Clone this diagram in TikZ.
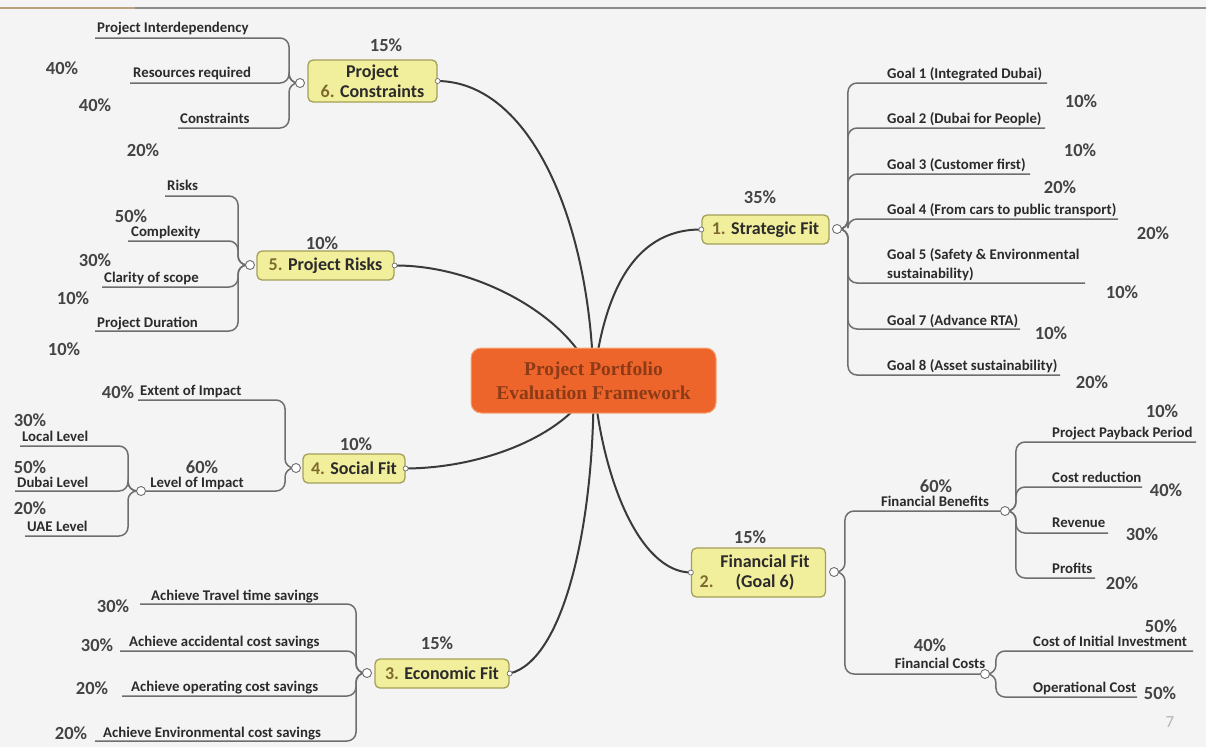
\documentclass[tikz,border=0pt]{standalone}
\usepackage{fontspec}
\setsansfont{Carlito}
\setmainfont{Liberation Serif}
\usetikzlibrary{backgrounds}

\definecolor{bgc}{HTML}{F4F4F4}
\definecolor{rulec}{HTML}{8C8C8C}
\definecolor{rulet}{HTML}{B8A27C}
\definecolor{linec}{HTML}{6E6E6E}
\definecolor{armc}{HTML}{3A3A3A}
\definecolor{txtc}{HTML}{2B2B2B}
\definecolor{pctc}{HTML}{444444}
\definecolor{topicfill}{HTML}{F1EE9C}
\definecolor{topicdraw}{HTML}{A3A05A}
\definecolor{numc}{HTML}{7D6B2E}
\definecolor{hubfill}{HTML}{EE652B}
\definecolor{hubdraw}{HTML}{F6A877}
\definecolor{hubtext}{HTML}{8C3A17}
\definecolor{pagec}{HTML}{B5B5B5}

\tikzset{
  lbl/.style={font=\sffamily\bfseries\fontsize{14.8}{19}\selectfont, text=txtc, inner sep=0pt},
  pct/.style={font=\sffamily\bfseries\fontsize{18.5}{20}\selectfont, text=pctc, inner sep=0pt},
  topic/.style={draw=topicdraw, fill=topicfill, line width=1.3pt, rounded corners=5pt,
    font=\sffamily\bfseries\fontsize{18}{20}\selectfont, text=txtc, inner sep=0pt,
    minimum height=29pt, align=center},
  knob/.style={circle, draw=linec, fill=white, line width=0.9pt, minimum size=9pt, inner sep=0pt},
  tip/.style={circle, draw=linec, fill=white, line width=0.7pt, minimum size=5pt, inner sep=0pt},
  branch/.style={draw=linec, line width=1.5pt, rounded corners=9pt},
  arm/.style={draw=armc, line width=2pt},
}

\begin{document}
\begin{tikzpicture}[x=1pt,y=-1pt]
\useasboundingbox (0,0) rectangle (1206,747);

% ---------- page ----------
\begin{pgfonlayer}{background}
  \fill[bgc] (0,0) rectangle (1206,747);
  \draw[rulec, line width=2.5pt] (0,8) -- (1206,8);
  \draw[rulet, line width=2.5pt] (0,8) -- (135,8);
\end{pgfonlayer}

% ---------- hub ----------
\node[draw=hubdraw, fill=hubfill, line width=1pt, rounded corners=10pt,
      minimum width=245pt, minimum height=65pt, align=center,
      font=\rmfamily\bfseries\fontsize{19.5}{24}\selectfont, text=hubtext]
      (h) at (593.5,380.5) {Project Portfolio\\Evaluation Framework};

% ---------- main topics ----------
\node[topic, minimum width=127pt] (sf) at (765.5,229.5) {{\color{numc}1.} Strategic Fit};
\node[topic, minimum width=134pt, minimum height=49pt] (ff) at (758.5,572.5)
     {\hspace*{13pt}Financial Fit\\\hspace*{13pt}\llap{{\color{numc}2.}\hspace{22pt}}(Goal 6)};
\node[topic, minimum width=134pt] (ef) at (442,673.5) {{\color{numc}3.} Economic Fit};
\node[topic, minimum width=102pt] (so) at (354,468.5) {{\color{numc}4.} Social Fit};
\node[topic, minimum width=137pt] (pr) at (325.5,265.5) {{\color{numc}5.} Project Risks};
\node[topic, minimum width=129pt, minimum height=42pt] (pc) at (372.5,81)
     {Project\\{\color{numc}6.} Constraints};

% weights of the main topics
\node[pct] (wsf) at (760,197) {35\%};
\node[pct] (wff) at (750,537) {15\%};
\node[pct] (wef) at (437,643) {15\%};
\node[pct] (wso) at (356,444) {10\%};
\node[pct] (wpr) at (322,243) {10\%};
\node[pct] (wpc) at (386,45) {15\%};

% arm tips on the hub side of each topic
\node[tip] (tsf) at (sf.west) {};
\node[tip] (tff) at (ff.west) {};
\node[tip] (tef) at (ef.east) {};
\node[tip] (tso) at (so.east) {};
\node[tip] (tpr) at (pr.east) {};
\node[tip] (tpc) at (pc.east) {};

% arms from the hub
\begin{pgfonlayer}{background}
  \draw[arm] (h.center) .. controls (603,300) and (630,229) .. (tsf.center);
  \draw[arm] (h.center) .. controls (602,480) and (640,572) .. (tff.center);
  \draw[arm] (h.center) .. controls (595,520) and (565,660) .. (tef.center);
  \draw[arm] (h.center) .. controls (575,430) and (490,468) .. (tso.center);
  \draw[arm] (h.center) .. controls (575,320) and (480,265) .. (tpr.center);
  \draw[arm] (h.center) .. controls (590,220) and (530,82) .. (tpc.center);
\end{pgfonlayer}

% ---------- 1. Strategic Fit ----------
\node[knob] (ksf) at (837,229) {};
\coordinate (g1) at (1047,83);
\coordinate (g2) at (1045,128);
\coordinate (g3) at (1030,174);
\coordinate (g4) at (1118,219);
\coordinate (g5) at (1085,283);
\coordinate (g7) at (1020,329);
\coordinate (g8) at (1060,375);
\begin{pgfonlayer}{background}
  \foreach \g in {g1,g2,g3,g4,g5,g7,g8}
    \draw[branch] (ksf.east) -- ++(6,0) |- (\g);
\end{pgfonlayer}
\node[lbl, anchor=base west] (tg1) at (887,78) {Goal 1 (Integrated Dubai)};
\node[lbl, anchor=base west] (tg2) at (887,123) {Goal 2 (Dubai for People)};
\node[lbl, anchor=base west] (tg3) at (887,169) {Goal 3 (Customer first)};
\node[lbl, anchor=base west] (tg4) at (887,214) {Goal 4 (From cars to public transport)};
\node[lbl, anchor=north west, align=left] (tg5) at (887,248)
     {Goal 5 (Safety \& Environmental\\sustainability)};
\node[lbl, anchor=base west] (tg7) at (887,325) {Goal 7 (Advance RTA)};
\node[lbl, anchor=base west] (tg8) at (887,370) {Goal 8 (Asset sustainability)};
\node[pct] (wg1) at (1081,101) {10\%};
\node[pct] (wg2) at (1080,150) {10\%};
\node[pct] (wg3) at (1060,187) {20\%};
\node[pct] (wg4) at (1153,233) {20\%};
\node[pct] (wg5) at (1122,292) {10\%};
\node[pct] (wg7) at (1051,333) {10\%};
\node[pct] (wg8) at (1092,382) {20\%};

% ---------- 2. Financial Fit ----------
\node[knob] (kff) at (834,572) {};
\node[knob] (kfb) at (1005,511) {};
\node[knob] (kfc) at (985,674) {};
\begin{pgfonlayer}{background}
  \draw[branch] (kff.east) -- ++(6,0) |- (kfb.west);
  \draw[branch] (kff.east) -- ++(6,0) |- (kfc.west);
\end{pgfonlayer}
\node[lbl, anchor=base] (tfb) at (935,506) {Financial Benefits};
\node[pct] (wfb) at (936,486) {60\%};
\node[lbl, anchor=base] (tfc) at (940,668) {Financial Costs};
\node[pct] (wfc) at (930,645) {40\%};

\coordinate (b1) at (1196,442);
\coordinate (b2) at (1142,487);
\coordinate (b3) at (1108,533);
\coordinate (b4) at (1095,578);
\begin{pgfonlayer}{background}
  \foreach \b in {b1,b2,b3,b4}
    \draw[branch] (kfb.east) -- ++(6,0) |- (\b);
\end{pgfonlayer}
\node[lbl, anchor=base west] (tb1) at (1052,437) {Project Payback Period};
\node[lbl, anchor=base west] (tb2) at (1052,482) {Cost reduction};
\node[lbl, anchor=base west] (tb3) at (1052,527) {Revenue};
\node[lbl, anchor=base west] (tb4) at (1052,573) {Profits};
\node[pct] (wb1) at (1162,411) {10\%};
\node[pct] (wb2) at (1166,490) {40\%};
\node[pct] (wb3) at (1142,534) {30\%};
\node[pct] (wb4) at (1122,583) {20\%};

\coordinate (c1) at (1193,651);
\coordinate (c2) at (1137,697);
\begin{pgfonlayer}{background}
  \foreach \c in {c1,c2}
    \draw[branch] (kfc.east) -- ++(6,0) |- (\c);
\end{pgfonlayer}
\node[lbl, anchor=base west] (tc1) at (1033,646) {Cost of Initial Investment};
\node[lbl, anchor=base west] (tc2) at (1033,692) {Operational Cost};
\node[pct] (wc1) at (1161,626) {50\%};
\node[pct] (wc2) at (1160,693) {50\%};

% ---------- 3. Economic Fit ----------
\node[knob] (kef) at (367,673) {};
\coordinate (e1) at (140,604);
\coordinate (e2) at (120,651);
\coordinate (e3) at (122,696);
\coordinate (e4) at (95,741);
\begin{pgfonlayer}{background}
  \foreach \e in {e1,e2,e3,e4}
    \draw[branch] (kef.west) -- ++(-6,0) |- (\e);
\end{pgfonlayer}
\node[lbl, anchor=base west] (te1) at (151,600) {Achieve Travel time savings};
\node[lbl, anchor=base west] (te2) at (129,646) {Achieve accidental cost savings};
\node[lbl, anchor=base west] (te3) at (131,691) {Achieve operating cost savings};
\node[lbl, anchor=base west] (te4) at (103,737) {Achieve Environmental cost savings};
\node[pct] (we1) at (113,606) {30\%};
\node[pct] (we2) at (97,645) {30\%};
\node[pct] (we3) at (92,688) {20\%};
\node[pct] (we4) at (71,733) {20\%};

% ---------- 4. Social Fit ----------
\node[knob] (kso) at (296,468) {};
\node[knob] (kli) at (141,491) {};
\coordinate (s1) at (138,400);
\begin{pgfonlayer}{background}
  \draw[branch] (kso.west) -- ++(-6,0) |- (s1);
  \draw[branch] (kso.west) -- ++(-6,0) |- (kli.east);
\end{pgfonlayer}
\node[lbl, anchor=base west] (ts1) at (140,395) {Extent of Impact};
\node[pct] (ws1) at (118,392) {40\%};
\node[lbl, anchor=base] (tli) at (197,487) {Level of Impact};
\node[pct] (wli) at (202,467) {60\%};

\coordinate (l1) at (20,446);
\coordinate (l2) at (15,491);
\coordinate (l3) at (25,536);
\begin{pgfonlayer}{background}
  \foreach \l in {l1,l2,l3}
    \draw[branch] (kli.west) -- ++(-8,0) |- (\l);
\end{pgfonlayer}
\node[lbl, anchor=base west] (tl1) at (22,441) {Local Level};
\node[lbl, anchor=base west] (tl2) at (17,487) {Dubai Level};
\node[lbl, anchor=base west] (tl3) at (27,531) {UAE Level};
\node[pct] (wl1) at (30,420) {30\%};
\node[pct] (wl2) at (30,467) {50\%};
\node[pct] (wl3) at (30,508) {20\%};

% ---------- 5. Project Risks ----------
\node[knob] (kpr) at (250,265) {};
\coordinate (r1) at (165,196);
\coordinate (r2) at (128,241);
\coordinate (r3) at (102,287);
\coordinate (r4) at (95,331);
\begin{pgfonlayer}{background}
  \foreach \r in {r1,r2,r3,r4}
    \draw[branch] (kpr.west) -- ++(-7,0) |- (\r);
\end{pgfonlayer}
\node[lbl, anchor=base west] (tr1) at (167,190) {Risks};
\node[lbl, anchor=base west] (tr2) at (131,236) {Complexity};
\node[lbl, anchor=base west] (tr3) at (104,282) {Clarity of scope};
\node[lbl, anchor=base west] (tr4) at (97,327) {Project Duration};
\node[pct] (wr1) at (131,216) {50\%};
\node[pct] (wr2) at (95,260) {30\%};
\node[pct] (wr3) at (73,298) {10\%};
\node[pct] (wr4) at (64,349) {10\%};

% ---------- 6. Project Constraints ----------
\node[knob] (kpc) at (300,83) {};
\coordinate (q1) at (95,38);
\coordinate (q2) at (130,83);
\coordinate (q3) at (178,128);
\begin{pgfonlayer}{background}
  \foreach \q in {q1,q2,q3}
    \draw[branch] (kpc.west) -- ++(-6,0) |- (\q);
\end{pgfonlayer}
\node[lbl, anchor=base west] (tq1) at (97,32) {Project Interdependency};
\node[lbl, anchor=base west] (tq2) at (133,77) {Resources required};
\node[lbl, anchor=base west] (tq3) at (180,123) {Constraints};
\node[pct] (wq1) at (62,68) {40\%};
\node[pct] (wq2) at (95,105) {40\%};
\node[pct] (wq3) at (143,150) {20\%};

% page number
\node[font=\sffamily\fontsize{17}{18}\selectfont, text=pagec, inner sep=0pt] (pg) at (1170,722) {7};
\end{tikzpicture}
\end{document}
